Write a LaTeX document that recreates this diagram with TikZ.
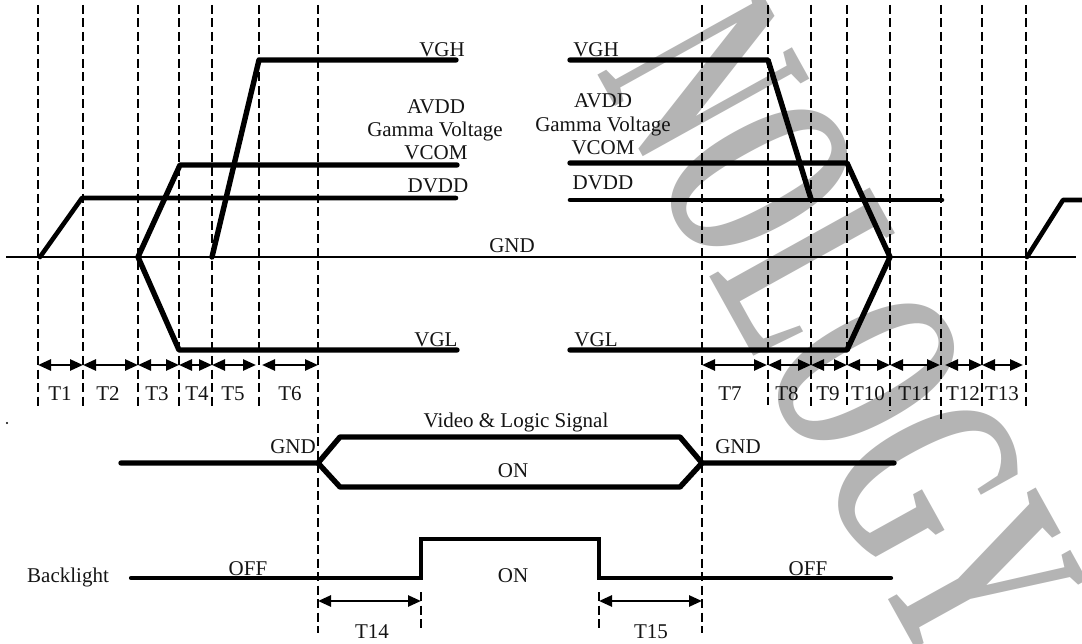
\documentclass[tikz,border=0pt]{standalone}
\usepackage{fontspec}
\setmainfont{Liberation Serif}
\usetikzlibrary{arrows.meta}
\definecolor{wmgray}{RGB}{180,180,180}
\definecolor{ink}{RGB}{20,20,20}
\begin{document}
\begin{tikzpicture}[x=1pt,y=-1pt,
  lbl/.style={anchor=base,inner sep=0pt,text=ink,font=\fontsize{21}{21}\selectfont},
  wave/.style={line width=5.4pt,line cap=round,line join=round},
  thinwave/.style={line width=4.6pt,line cap=round,line join=round},
  gridline/.style={line width=2.8pt,dash pattern=on 9pt off 4.5pt},
  span/.style={line width=2.6pt,{Triangle[length=13pt,width=11pt]}-{Triangle[length=13pt,width=11pt]}}
]
\useasboundingbox (0,0) rectangle (1082,644);
% watermark
\node[rotate=-61,text=wmgray,inner sep=0pt] (wm) at (842,328)
  {\scalebox{0.55}[1]{\fontsize{280}{280}\selectfont\bfseries NOLOGY}};

% dashed grid lines
\foreach \n/\x/\yb in {a/38/410,b/83/410,c/138/410,d/179/410,e/212/410,f/259/410,g/318/633,
  h/702/633,i/768/405,j/811/409,k/847/405,l/890/411,m/941/420,n/982/407,o/1026/407}{
  \coordinate (top\n) at (\x,5);
  \coordinate (bot\n) at (\x,\yb);
  \draw[gridline] (top\n) -- (bot\n);
}
\coordinate (t14a) at (421,592); \coordinate (t14b) at (421,630);
\coordinate (t15a) at (599,592); \coordinate (t15b) at (599,630);
\draw[gridline] (t14a) -- (t14b);
\draw[gridline] (t15a) -- (t15b);

% GND line
\coordinate (gndL) at (6,257); \coordinate (gndR) at (1076,257);
\draw[line width=1.4pt] (gndL) -- (gndR);

% left waveforms
\coordinate (dv0) at (40,257); \coordinate (dv1) at (82,198); \coordinate (dv2) at (456,198);
\draw[thinwave] (dv0) -- (dv1) -- (dv2);
\coordinate (vc0) at (138,257); \coordinate (vc1) at (180,165); \coordinate (vc2) at (457,165);
\coordinate (vl1) at (179,350); \coordinate (vl2) at (457,350);
\draw[wave] (vc2) -- (vc1) -- (vc0) -- (vl1) -- (vl2);
\coordinate (vh0) at (212,257); \coordinate (vh1) at (259,60); \coordinate (vh2) at (456,60);
\draw[wave] (vh0) -- (vh1) -- (vh2);

% right waveforms
\coordinate (rvh0) at (570,60); \coordinate (rvh1) at (768,60); \coordinate (rvh2) at (811,199);
\draw[wave] (rvh0) -- (rvh1) -- (rvh2);
\coordinate (rvc0) at (570,163); \coordinate (rvc1) at (847,163); \coordinate (rvc2) at (890,257);
\coordinate (rvl1) at (847,350); \coordinate (rvl0) at (570,350);
\draw[wave] (rvc0) -- (rvc1) -- (rvc2) -- (rvl1) -- (rvl0);
\coordinate (rdv0) at (570,200); \coordinate (rdv1) at (942,200);
\draw[thinwave] (rdv0) -- (rdv1);
\coordinate (rr0) at (1027,257); \coordinate (rr1) at (1063,200); \coordinate (rr2) at (1090,200);
\draw[thinwave] (rr0) -- (rr1) -- (rr2);

% labels upper
\node[lbl] (vghL) at (442,57) {VGH};
\node[lbl] (avddL) at (436,114) {AVDD};
\node[lbl] (gamL) at (435,137) {Gamma Voltage};
\node[lbl] (vcomL) at (436,160) {VCOM};
\node[lbl] (dvddL) at (438,193) {DVDD};
\node[lbl] (gnd) at (512,253) {GND};
\node[lbl] (vglL) at (436,347) {VGL};
\node[lbl] (vghR) at (596,57) {VGH};
\node[lbl] (avddR) at (603,108) {AVDD};
\node[lbl] (gamR) at (603,132) {Gamma Voltage};
\node[lbl] (vcomR) at (603,155) {VCOM};
\node[lbl] (dvddR) at (603,190) {DVDD};
\node[lbl] (vglR) at (596,347) {VGL};

% timing arrows
\foreach \n/\xa/\xb in {1/38/83,2/83/138,3/138/179,4/179/212,5/212/256,6/262/318,
  7/702/767,8/768/811,9/811/847,10/847/890,11/890/940,12/945/982,13/982/1023}{
  \coordinate (ta\n) at (\xa,365);
  \coordinate (tb\n) at (\xb,365);
  \draw[span] (ta\n) -- (tb\n);
}
\foreach \n/\x in {1/60,2/108,3/157,4/197,5/233,6/290,7/730,8/787,9/828,10/868,11/915,12/963,13/1002}{
  \node[lbl] (T\n) at (\x,400) {T\n};
}

% dot
\fill (7,423) circle (1.1pt);

% video & logic signal
\node[lbl] (vls) at (516,427) {Video \& Logic Signal};
\coordinate (v0) at (121,463); \coordinate (v1) at (318,463);
\coordinate (vu1) at (340,437); \coordinate (vu2) at (680,437);
\coordinate (vd1) at (340,487); \coordinate (vd2) at (680,487);
\coordinate (v2) at (702,463); \coordinate (v3) at (894,463);
\draw[wave] (v0) -- (v1) -- (vu1) -- (vu2) -- (v2) -- (v3);
\draw[wave] (v1) -- (vd1) -- (vd2) -- (v2);
\node[lbl] (gndV1) at (293,453) {GND};
\node[lbl] (gndV2) at (738,453) {GND};
\node[lbl] (onV) at (513,477) {ON};

% backlight
\node[lbl] (bl) at (68,582) {Backlight};
\coordinate (b0) at (131,578); \coordinate (b1) at (421,578); \coordinate (b2) at (421,539);
\coordinate (b3) at (599,539); \coordinate (b4) at (599,578); \coordinate (b5) at (891,578);
\draw[line width=4.2pt,line join=miter,line cap=round] (b0) -- (b1) -- (b2) -- (b3) -- (b4) -- (b5);
\node[lbl] (offL) at (248,575) {OFF};
\node[lbl] (offR) at (808,575) {OFF};
\node[lbl] (onB) at (513,582) {ON};

\coordinate (t14l) at (318,601); \coordinate (t14r) at (421,601);
\draw[span] (t14l) -- (t14r);
\coordinate (t15l) at (599,601); \coordinate (t15r) at (702,601);
\draw[span] (t15l) -- (t15r);
\node[lbl] (T14) at (372,638) {T14};
\node[lbl] (T15) at (651,638) {T15};
\end{tikzpicture}
\end{document}
